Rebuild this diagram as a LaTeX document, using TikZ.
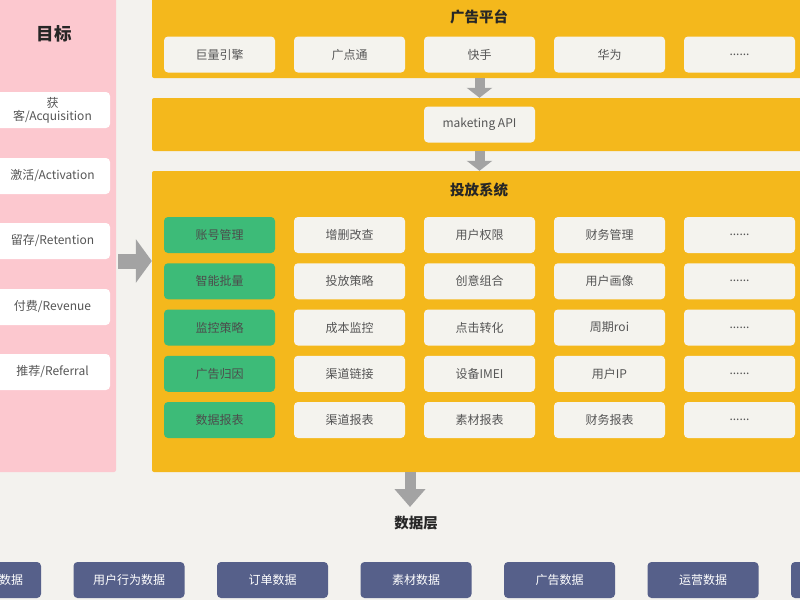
\documentclass[tikz,border=0pt]{standalone}
\usepackage{fontspec}
\setmainfont{Noto Sans CJK SC}
\usetikzlibrary{arrows.meta}
\definecolor{bgc}{HTML}{F3F2EE}
\definecolor{pinkc}{HTML}{FCC8CF}
\definecolor{yellowc}{HTML}{F4B81C}
\definecolor{cellc}{HTML}{F4F3EE}
\definecolor{greenc}{HTML}{3DBB78}
\definecolor{slatec}{HTML}{56608A}
\definecolor{arrowc}{HTML}{A3A3A3}
\definecolor{textc}{HTML}{555555}
\newcommand\moredots{......}

\begin{document}
\begin{tikzpicture}[x=1pt,y=-1pt,
  panel/.style={fill=yellowc,rounded corners=2pt,inner sep=0pt},
  cell/.style={fill=cellc,rounded corners=4pt,minimum width=111pt,minimum height=36pt,inner sep=0pt,text=textc,font=\fontsize{12}{14}\selectfont},
  keycell/.style={cell,fill=greenc,text=black!70},
  goalcell/.style={cell,fill=white,minimum width=115pt,align=center,font=\fontsize{12}{13}\selectfont},
  datacell/.style={cell,fill=slatec,text=white},
  title/.style={font=\fontsize{14.5}{16}\selectfont\bfseries,text=black!85},
  fat/.style={arrowc,line width=10pt,-{Triangle[width=25pt,length=10pt]}}]
\useasboundingbox (0,0) rectangle (800,600);
\clip (0,0) rectangle (800,600);
\fill[bgc] (0,0) rectangle (800,600);
% goals on the left
\node[fill=pinkc,rounded corners=2pt,minimum width=126pt,minimum height=482pt,inner sep=0pt] (goal) at (53,231) {};
\node[title,font=\fontsize{17.5}{19}\selectfont\bfseries] (goalt) at (54,34) {目标};
\foreach \y/\t [count=\i] in {110/{获\\客/Acquisition},176/{激活/Activation},241/{留存/Retention},307/{付费/Revenue},372/{推荐/Referral}}
\node[goalcell] (g\i) at (52.5,\y) {\t};
% ad platforms
\node[panel,minimum width=660pt,minimum height=88pt] (plat) at (482,34) {};
\node[title] (platt) at (479,17) {广告平台};
\foreach \t [count=\x] in {巨量引擎,广点通,快手,华为,\moredots}
\node[cell] (p\x) at (89.5+130*\x,54.5) {\t};
% api
\node[panel,minimum width=660pt,minimum height=53pt] (api) at (482,124.5) {};
\node[cell] (mapi) at (479.5,124.5) {maketing API};
% delivery system
\node[panel,minimum width=660pt,minimum height=301pt] (sys) at (482,321.5) {};
\node[title] (syst) at (479,190) {投放系统};
\foreach \k/\a/\b/\e [count=\r] in {账号管理/增删改查/用户权限/财务管理,智能批量/投放策略/创意组合/用户画像,监控策略/成本监控/点击转化/周期roi,广告归因/渠道链接/设备IMEI/用户IP,数据报表/渠道报表/素材报表/财务报表}{
\node[keycell] (k\r) at (219.5,188.75+46.25*\r) {\k};
\node[cell] (a\r) at (349.5,188.75+46.25*\r) {\a};
\node[cell] (b\r) at (479.5,188.75+46.25*\r) {\b};
\node[cell] (e\r) at (609.5,188.75+46.25*\r) {\e};
\node[cell] (m\r) at (739.5,188.75+46.25*\r) {\moredots};
}
% data layer
\node[title] (dl) at (416,523) {数据层};
\foreach \t [count=\x] in {{},用户行为数据,订单数据,素材数据,广告数据,运营数据,{}}
\node[datacell] (d\x) at (-158+143.5*\x,580) {\t};
\node[text=white,font=\fontsize{12}{14}\selectfont,inner sep=0pt] (d0) at (11,580) {数据};
% arrows
\draw[fat] (plat.south -| mapi) -- (api.north -| mapi);
\draw[fat] (api.south -| mapi) -- (sys.north -| mapi);
\coordinate (lin) at (118,261);
\draw[fat,line width=15pt,-{Triangle[width=43pt,length=16pt]}] (lin) -- (lin -| sys.west);
\coordinate (dtip) at (410,507);
\draw[fat,line width=11pt,-{Triangle[width=30pt,length=18pt]}] (dtip |- sys.south) -- (dtip);
\end{tikzpicture}
\end{document}
